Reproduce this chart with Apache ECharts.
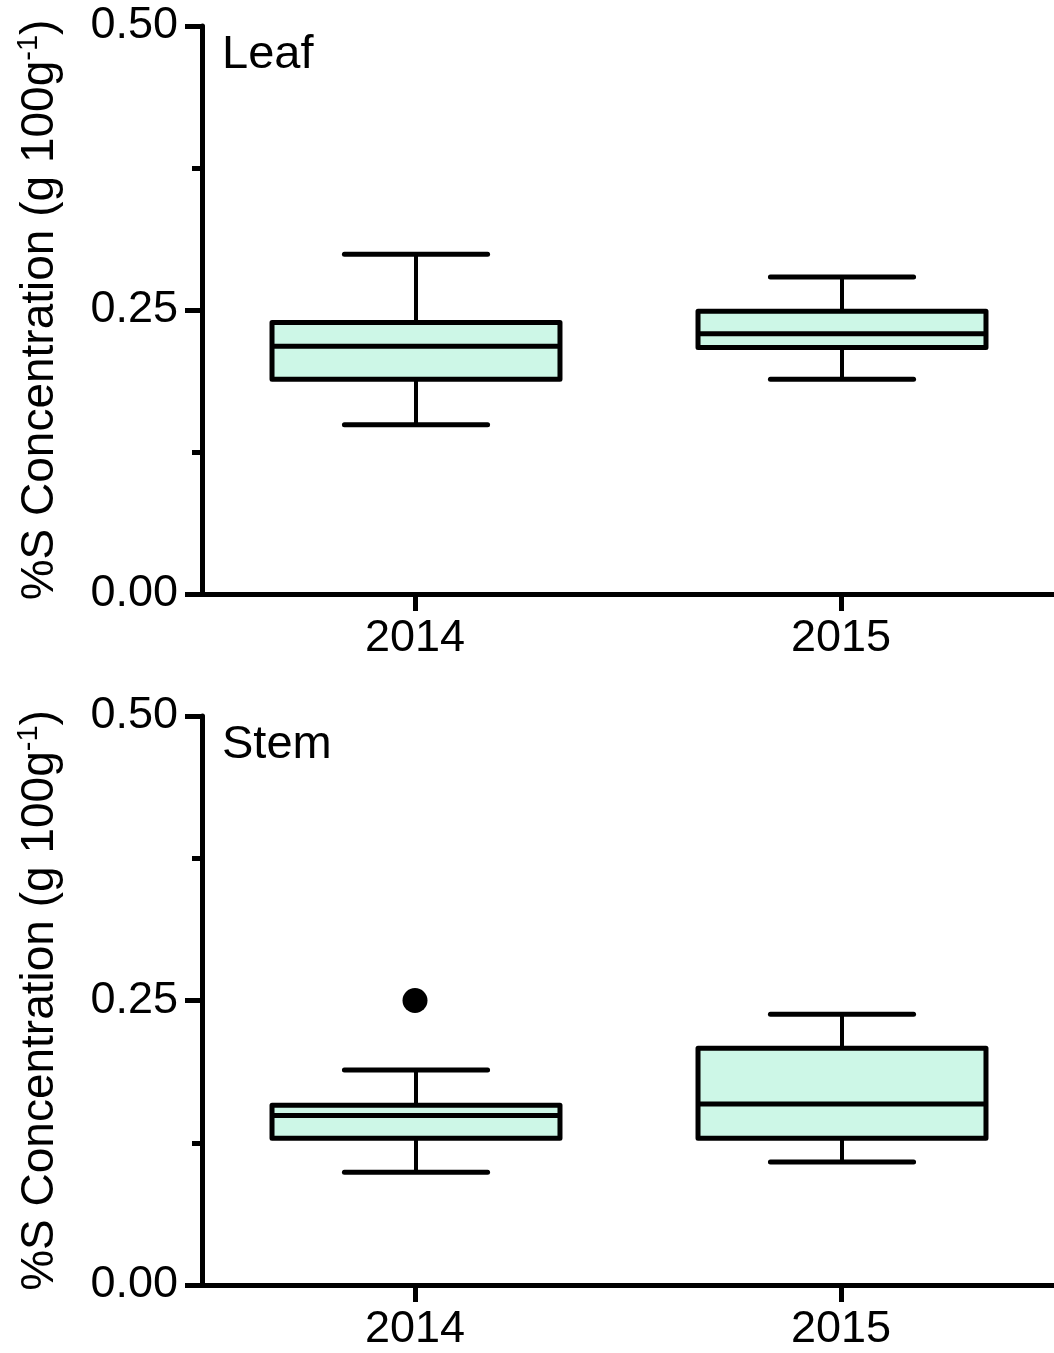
<!DOCTYPE html>
<html>
<head>
<meta charset="utf-8">
<title>%S Concentration – Leaf and Stem</title>
<script src="https://cdn.jsdelivr.net/npm/echarts@6/dist/echarts.min.js"></script>
<style>
  html, body { margin: 0; padding: 0; background: #ffffff; }
  #chart { width: 1054px; height: 1353px; }
</style>
</head>
<body>
<div id="chart"></div>
<script>
// Sampling years on the category axis
const categories = ['2014', '2015'];

// Box statistics per year: [lower whisker, Q1, median, Q3, upper whisker]
const leafBoxes = [
  [0.149, 0.189, 0.218, 0.239, 0.299],
  [0.189, 0.217, 0.229, 0.249, 0.279]
];
const stemBoxes = [
  [0.099, 0.129, 0.149, 0.158, 0.189],
  [0.108, 0.129, 0.159, 0.208, 0.238]
];

// Points beyond the whiskers: [year, value]
const leafOutliers = [];
const stemOutliers = [['2014', 0.25]];

// Y axis range and labelled tick step
const yMin = 0;
const yMax = 0.5;
const yStep = 0.25;

const panelNames = ['Leaf', 'Stem'];

const FONT = '"Liberation Sans", Arial, Helvetica, sans-serif';
const INK = '#000000';
const BOX_FILL = '#cdf7e7';

const chart = echarts.init(document.getElementById('chart'), null, { renderer: 'canvas' });

// Draws one box-and-whisker glyph with caps narrower than the box
function renderBox(params, api) {
  const xi = api.value(0);
  const lo = api.coord([xi, api.value(1)]);
  const q1 = api.coord([xi, api.value(2)]);
  const md = api.coord([xi, api.value(3)]);
  const q3 = api.coord([xi, api.value(4)]);
  const hi = api.coord([xi, api.value(5)]);
  const band = api.size([1, 0])[0];
  const bw = band * 0.338;
  const cw = band * 0.168;
  const cx = md[0] + 1;
  const stroke = { stroke: INK, lineWidth: 5, lineCap: 'round' };
  return {
    type: 'group',
    children: [
      { type: 'line', shape: { x1: cx, y1: q3[1], x2: cx, y2: hi[1] }, style: { stroke: INK, lineWidth: 4 } },
      { type: 'line', shape: { x1: cx, y1: q1[1], x2: cx, y2: lo[1] }, style: { stroke: INK, lineWidth: 4 } },
      { type: 'line', shape: { x1: cx - cw, y1: hi[1], x2: cx + cw, y2: hi[1] }, style: stroke },
      { type: 'line', shape: { x1: cx - cw, y1: lo[1], x2: cx + cw, y2: lo[1] }, style: stroke },
      {
        type: 'rect',
        shape: { x: cx - bw, y: q3[1], width: bw * 2, height: q1[1] - q3[1] },
        style: { fill: BOX_FILL, stroke: INK, lineWidth: 5, lineJoin: 'round' }
      },
      { type: 'line', shape: { x1: cx - bw, y1: md[1], x2: cx + bw, y2: md[1] }, style: { stroke: INK, lineWidth: 5 } }
    ]
  };
}

function boxData(boxes) {
  return boxes.map((b, i) => [i].concat(b));
}

const grids = [
  { left: 202, top: 26, width: 858, height: 568 },
  { left: 202, top: 716, width: 858, height: 569 }
];

const xAxes = grids.map((g, i) => ({
  type: 'category',
  gridIndex: i,
  data: categories,
  boundaryGap: true,
  axisLine: { show: true, lineStyle: { color: INK, width: 5 } },
  axisTick: { show: true, alignWithLabel: true, interval: 0, length: 17, lineStyle: { color: INK, width: 5 } },
  axisLabel: { color: INK, fontFamily: FONT, fontSize: 45, margin: 22 },
  splitLine: { show: false }
}));

const yAxes = grids.map((g, i) => ({
  type: 'value',
  gridIndex: i,
  min: yMin,
  max: yMax,
  interval: yStep,
  axisLine: { show: true, lineStyle: { color: INK, width: 5 } },
  axisTick: { show: true, length: 17, lineStyle: { color: INK, width: 5 } },
  minorTick: { show: true, splitNumber: 2, length: 10, lineStyle: { color: INK, width: 5 } },
  axisLabel: { color: INK, fontFamily: FONT, fontSize: 45, margin: 24, formatter: v => v.toFixed(2) },
  splitLine: { show: false },
  minorSplitLine: { show: false },
  name: '{t|%S Concentration (g 100g}{s|-1}{t|)}',
  nameLocation: 'middle',
  nameRotate: 90,
  nameGap: 136,
  nameTextStyle: {
    rich: {
      t: { fontFamily: FONT, fontSize: 46, color: INK, lineHeight: 52 },
      s: { fontFamily: FONT, fontSize: 29, color: INK, verticalAlign: 'top', lineHeight: 52 }
    }
  }
}));

const titles = panelNames.map((name, i) => ({
  text: name,
  left: 222,
  top: grids[i].top + 6,
  padding: 0,
  textStyle: { fontFamily: FONT, fontSize: 47, fontWeight: 'normal', color: INK }
}));

const series = [
  { type: 'custom', xAxisIndex: 0, yAxisIndex: 0, renderItem: renderBox, data: boxData(leafBoxes),
    encode: { x: 0, y: [1, 2, 3, 4, 5] }, silent: true, z: 3 },
  { type: 'custom', xAxisIndex: 1, yAxisIndex: 1, renderItem: renderBox, data: boxData(stemBoxes),
    encode: { x: 0, y: [1, 2, 3, 4, 5] }, silent: true, z: 3 },
  { type: 'scatter', xAxisIndex: 0, yAxisIndex: 0, data: leafOutliers, symbol: 'circle', symbolSize: 25,
    itemStyle: { color: INK, opacity: 1 }, silent: true, z: 4 },
  { type: 'scatter', xAxisIndex: 1, yAxisIndex: 1, data: stemOutliers, symbol: 'circle', symbolSize: 25,
    itemStyle: { color: INK, opacity: 1 }, silent: true, z: 4 }
];

chart.setOption({
  backgroundColor: '#ffffff',
  animation: false,
  title: titles,
  grid: grids,
  xAxis: xAxes,
  yAxis: yAxes,
  series: series
});
</script>
</body>
</html>
